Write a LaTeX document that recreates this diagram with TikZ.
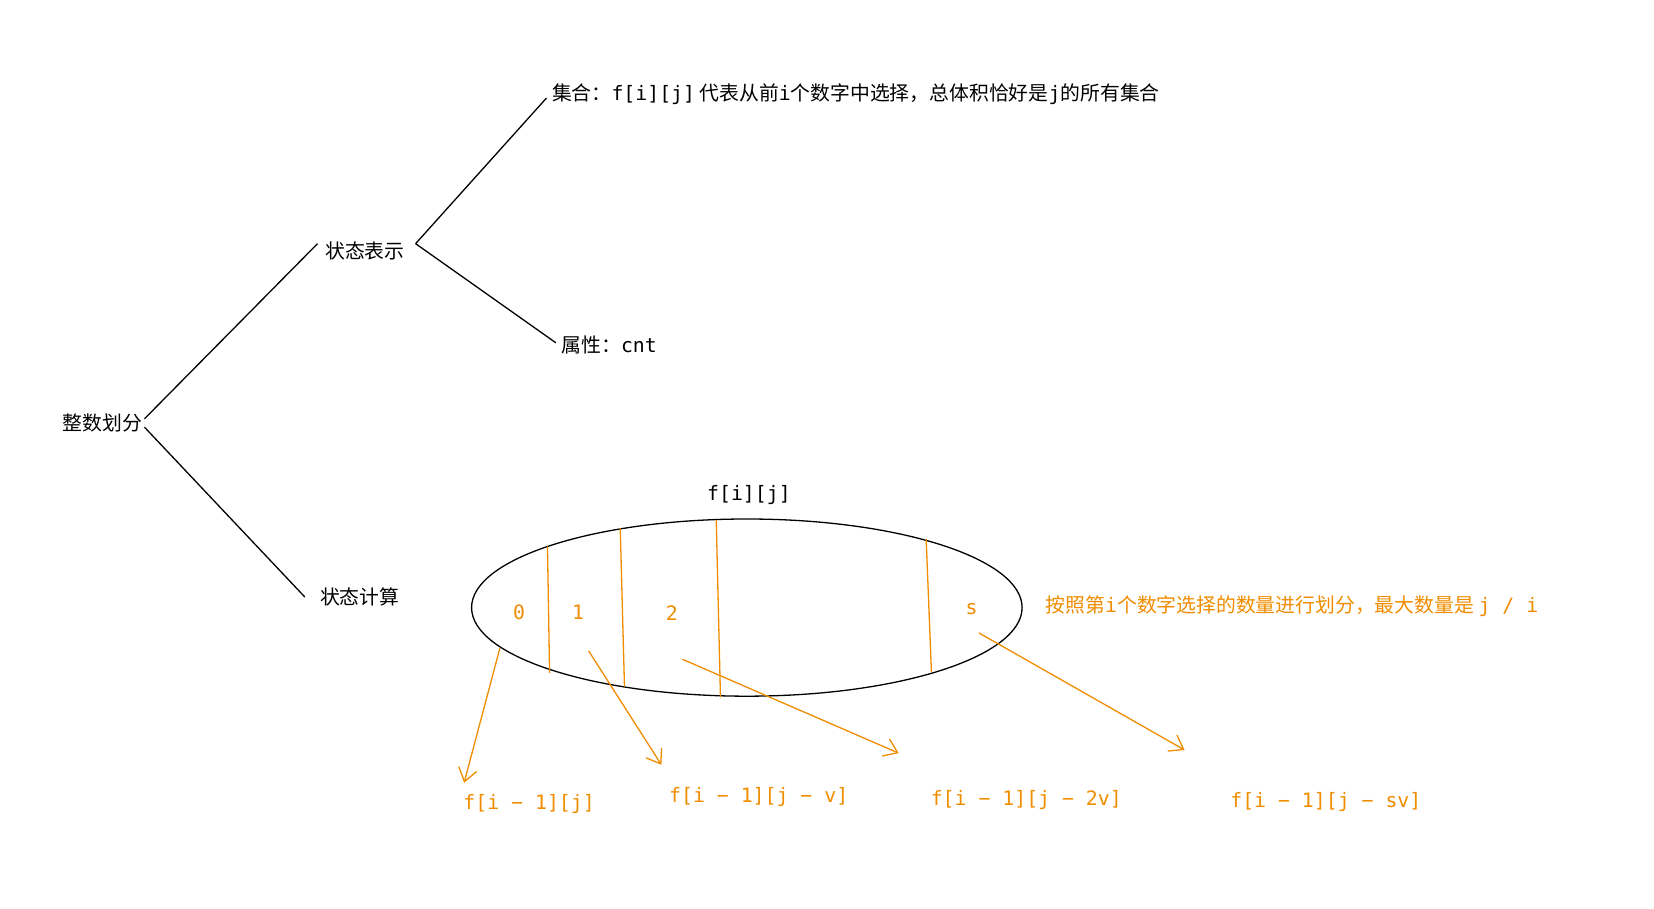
\documentclass[tikz,border=0pt]{standalone}
\usepackage{fontspec}
\setmainfont{Noto Sans CJK SC}
\newfontfamily\mono{DejaVu Sans Mono}
\usetikzlibrary{arrows.meta,shapes.geometric}
\definecolor{org}{HTML}{F08C00}
\begin{document}
\begin{tikzpicture}[x=0.02cm,y=-0.02cm,
  txt/.style={inner sep=0pt,font=\fontsize{10.7pt}{12pt}\selectfont},
  ln/.style={line width=0.7pt},
  ol/.style={draw=org,line width=0.7pt},
  oa/.style={draw=org,line width=0.7pt,-{Straight Barb[length=7pt,width=10pt]}}]
\useasboundingbox (0,0) rectangle (1568,861);
\node[txt] (root) at (97,401) {整数划分};
\node[txt] (rep) at (346,238) {状态表示};
\node[txt] (calc) at (341,566) {状态计算};
\node[txt,anchor=west] (set) at (523,89) {集合：{\mono f[i][j]} 代表从前{\mono i}个数字中选择，总体积恰好是{\mono j}的所有集合};
\node[txt,anchor=west] (attr) at (532,327) {属性：{\mono cnt}};
\coordinate (r1) at (137,397); \coordinate (r2) at (137,405);
\coordinate (p1) at (301,231); \coordinate (p2) at (289,566);
\coordinate (q0) at (394,231); \coordinate (q1) at (518,93); \coordinate (q2) at (527,325);
\draw[ln] (r1) -- (p1); \draw[ln] (r2) -- (p2);
\draw[ln] (q0) -- (q1); \draw[ln] (q0) -- (q2);
\node[txt,font=\mono\fontsize{10.7pt}{12pt}\selectfont] (fij) at (710,469) {f[i][j]};
\node[draw,ln,ellipse,minimum width=10.44cm,minimum height=3.36cm,inner sep=0pt] (ell) at (708,576) {};
\draw[ol] (519,518) -- (521,638);
\draw[ol] (588,501) -- (592,651);
\draw[ol] (679,493) -- (683,661);
\draw[ol] (878,511) -- (883,637);
\begin{scope}[every node/.style={txt,text=org,font=\mono\fontsize{10.7pt}{12pt}\selectfont}]
\node (l0) at (492,580) {0};
\node (l1) at (548,580) {1};
\node (l2) at (637,581) {2};
\node (ls) at (921,577) {s};
\node[anchor=west,font=\fontsize{10.7pt}{12pt}\selectfont] (note) at (991,575) {按照第{\mono i}个数字选择的数量进行划分，最大数量是 {\mono j / i}};
\node[anchor=west] (b0) at (439,762) {f[i − 1][j]};
\node[anchor=west] (b1) at (634,756) {f[i − 1][j − v]};
\node[anchor=west] (b2) at (882,758) {f[i − 1][j − 2v]};
\node[anchor=west] (b3) at (1166,760) {f[i − 1][j − sv]};
\end{scope}
\coordinate (a0) at (474,614); \coordinate (t0) at (440,742);
\coordinate (a1) at (558,617); \coordinate (t1) at (627,725);
\coordinate (a2) at (647,625); \coordinate (t2) at (852,714);
\coordinate (a3) at (928,600); \coordinate (t3) at (1123,711);
\draw[oa] (a0) -- (t0); \draw[oa] (a1) -- (t1);
\draw[oa] (a2) -- (t2); \draw[oa] (a3) -- (t3);
\end{tikzpicture}
\end{document}
